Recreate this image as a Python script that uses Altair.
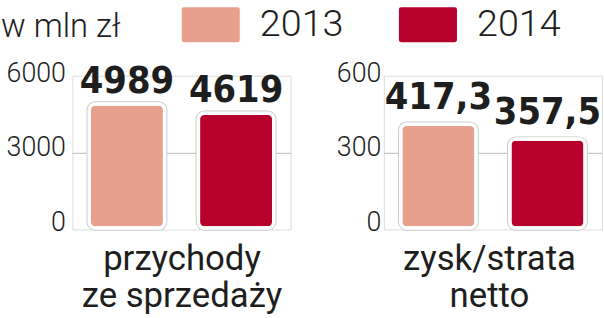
import altair as alt
import pandas as pd

years = ["2013", "2014"]
revenue = [4989, 4619]
profit = [417.3, 357.5]
revenue_ticks = [0, 3000, 6000]
profit_ticks = [0, 300, 600]
revenue_title = ["przychody", "ze sprzedaży"]
profit_title = ["zysk/strata", "netto"]
colors = ["#e8a08e", "#b7002b"]
unit_label = "w mln zł"

LIGHT = "Roboto"
BOLD = "'DejaVu Sans Condensed', sans-serif"
INK = "#1e1e1e"

legend_path = ("M-1.4,-1 H1.4 Q1.6,-1 1.6,-0.8 V0.8 Q1.6,1 1.4,1 "
               "H-1.4 Q-1.6,1 -1.6,0.8 V-0.8 Q-1.6,-1 -1.4,-1 Z")


def panel(values, ticks, title, axis_extent, label_pad, title_x, dy, show_legend):
    top = ticks[-1]
    unit = top / 150.3          # data units per pixel
    df = pd.DataFrame({
        "rok": years,
        "v": values,
        "lab": [(f"{v:g}").replace(".", ",") for v in values],
    })
    grid = pd.DataFrame({"g": [ticks[1]]})
    yscale = alt.Scale(domain=[-1.5 * unit, top + 3.2 * unit], nice=False, zero=False)
    xenc = alt.X(
        "rok:N",
        sort=years,
        scale=alt.Scale(paddingInner=0.3, paddingOuter=0.15),
        axis=alt.Axis(
            labels=False, ticks=False, domain=False, grid=False,
            title=title, titleFont="Roboto", titleFontSize=35,
            titleFontWeight="normal", titleColor=INK, titleX=title_x,
            titleY=40, titleAlign="center", titleBaseline="alphabetic",
            titleLineHeight=38, titleAnchor="start",
        ),
    )
    yaxis = alt.Axis(
        values=ticks, format="d", grid=False, ticks=False, domain=False, title=None,
        labelFont=LIGHT, labelFontWeight=300, labelFontSize=27,
        labelColor=INK, labelPadding=label_pad, labelOffset=-5.5,
        minExtent=axis_extent, maxExtent=axis_extent,
    )
    rule = alt.Chart(grid).mark_rule(color="#c8c8c8", strokeWidth=1.2).encode(
        y=alt.Y("g:Q", scale=yscale, axis=yaxis)
    )
    legend = None
    if show_legend:
        legend = alt.Legend(
            title=unit_label, orient="none", direction="horizontal",
            legendX=-72, legendY=-73, titleOrient="left", padding=0,
            titleFont=LIGHT, titleFontWeight=300, titleFontSize=33,
            titleColor=INK, titlePadding=69, titleBaseline="middle",
            labelFont=LIGHT, labelFontWeight=300, labelFontSize=38,
            labelColor=INK, labelOffset=28, columnPadding=46,
            symbolType=legend_path, symbolSize=1502,
            symbolStrokeColor="white", symbolStrokeWidth=3.5,
            symbolOpacity=1,
        )
    shadow = alt.Chart(df).mark_bar(
        cornerRadius=6, stroke="#cccccc", strokeWidth=5.5, size=76, fill="#cccccc"
    ).encode(
        x=xenc,
        y=alt.Y("v:Q", scale=yscale, axis=yaxis),
    )
    bars = alt.Chart(df).mark_bar(
        cornerRadius=6, stroke="white", strokeWidth=3.5, size=76
    ).encode(
        x=xenc,
        y=alt.Y("v:Q", scale=yscale, axis=yaxis),
        fill=alt.Fill("rok:N", scale=alt.Scale(domain=years, range=colors),
                      legend=legend),
    )
    text = alt.Chart(df).mark_text(
        font=BOLD, fontWeight="bold", fontSize=38, color=INK,
        baseline="alphabetic", dy=dy,
    ).encode(
        x=alt.X("rok:N", sort=years),
        y=alt.Y("v:Q", scale=yscale),
        text="lab:N",
    )
    return alt.layer(rule, shadow, bars, text).properties(width=220, height=155)


left = panel(revenue, revenue_ticks, revenue_title, 72, 7, 110, -11.5, True)
right = panel(profit, profit_ticks, profit_title, 60, 3, 106, -15, False)

chart = alt.hconcat(left, right, spacing=31).properties(
    padding={"left": 0, "top": 2, "right": 0, "bottom": 0}
).configure_view(
    fill="#efefef", stroke=None, cornerRadius=8
).configure(background="white")

chart.save("out.html", embed_options={"renderer": "svg", "actions": False})
